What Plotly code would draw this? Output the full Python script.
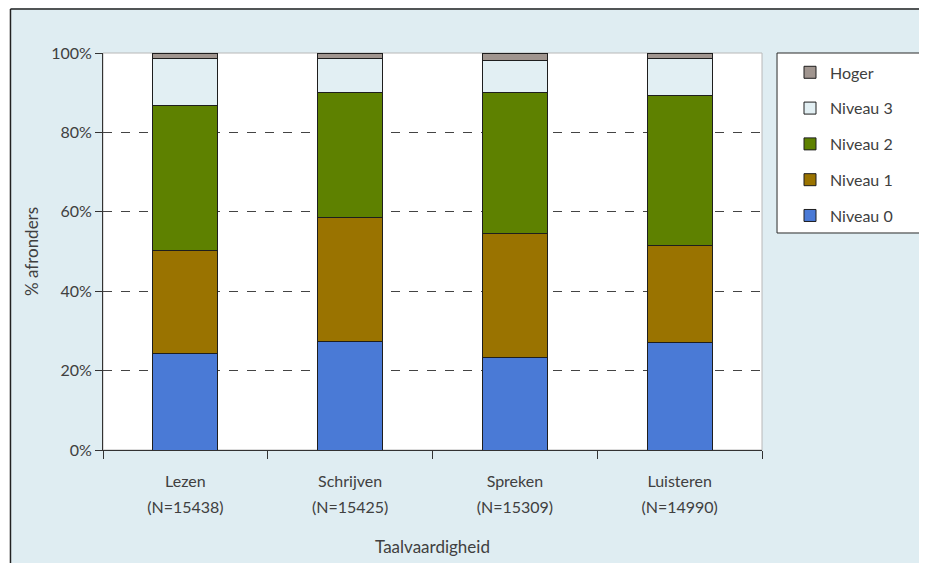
import plotly.graph_objects as go

skills = ["Lezen", "Schrijven", "Spreken", "Luisteren"]
n_labels = ["(N=15438)", "(N=15425)", "(N=15309)", "(N=14990)"]
niveau0 = [24.4, 27.3, 23.3, 27.0]
niveau1 = [25.9, 31.3, 31.3, 24.5]
niveau2 = [36.6, 31.4, 35.4, 37.9]
niveau3 = [11.6, 8.5, 8.2, 9.1]
hoger = [1.5, 1.5, 1.8, 1.5]
y_ticks = [0, 20, 40, 60, 80, 100]
y_ticktext = ["0%", "20%", "40%", "60%", "80%", "100%"]
grid_vals = [20, 40, 60, 80]

series = [
    ("Niveau 0", niveau0, "#4A7AD6", 5),
    ("Niveau 1", niveau1, "#9A7300", 4),
    ("Niveau 2", niveau2, "#5E8100", 3),
    ("Niveau 3", niveau3, "#E2EFF3", 2),
    ("Hoger", hoger, "#A0958F", 1),
]

FONT = "Lato"
TXT = "#404040"

xtext = [f"<span style='font-size:16px'>{s}<br>{n}</span>" for s, n in zip(skills, n_labels)]

fig = go.Figure()
for name, vals, col, rank in series:
    fig.add_trace(go.Bar(
        x=skills, y=vals, name=name, legendgroup=name, legendrank=rank,
        marker=dict(color=col, line=dict(color="#1e1e1e", width=1)),
    ))

fig.update_layout(
    width=919, height=555,
    margin=dict(l=95, r=165, t=45, b=113),
    barmode="stack", bargap=0.605,
    paper_bgcolor="#DFEDF2", plot_bgcolor="#FFFFFF",
    font=dict(family=FONT, size=16, color=TXT),
    showlegend=True,
    legend=dict(
        x=1.0425, y=0.994, xanchor="left", yanchor="top",
        bgcolor="rgba(0,0,0,0)", borderwidth=0,
        traceorder="grouped", tracegroupgap=12,
        font=dict(family=FONT, size=16, color=TXT),
    ),
    xaxis=dict(
        tickvals=skills, ticktext=xtext, tickfont=dict(size=20),
        showline=True, linecolor="#333333", linewidth=1,
        ticks="outside", tickson="boundaries", ticklen=8, tickcolor="#333333",
        ticklabelstandoff=12, automargin=False,
        title=dict(text="Taalvaardigheid", standoff=26, font=dict(size=17)),
        showgrid=False,
    ),
    yaxis=dict(
        range=[0, 100], tickvals=y_ticks, ticktext=y_ticktext,
        showline=True, linecolor="#333333", linewidth=1,
        ticks="outside", ticklen=7, tickcolor="#333333",
        showgrid=False, zeroline=False, automargin=False,
        minor=dict(tickvals=grid_vals, showgrid=True, gridcolor="#444444",
                   griddash="dash", gridwidth=1, ticks=""),
        title=dict(text="% afronders", standoff=8, font=dict(size=17)),
    ),
    shapes=[
        dict(type="rect", xref="paper", yref="paper", x0=0, x1=1, y0=0, y1=1,
             line=dict(color="#B8B8B8", width=1), layer="below"),
        dict(type="rect", xref="paper", yref="paper", x0=-0.3, x1=-0.1404, y0=-0.4, y1=1.3,
             fillcolor="#FFFFFF", line=dict(width=0), layer="below"),
        dict(type="line", xref="paper", yref="paper", x0=-0.1404, x1=-0.1404, y0=-0.4, y1=1.111,
             line=dict(color="#222222", width=1.5), layer="below"),
        dict(type="line", xref="paper", yref="paper", x0=-0.1404, x1=1.4, y0=1.111, y1=1.111,
             line=dict(color="#222222", width=1.5), layer="below"),
        # legend box
        dict(type="rect", xref="paper", yref="paper", x0=1.0228, x1=1.2398, y0=0.5466, y1=1.0,
             fillcolor="#FFFFFF", line=dict(color="#2a2a2a", width=1), layer="below"),
    ],
)

fig.write_html("out.html")
